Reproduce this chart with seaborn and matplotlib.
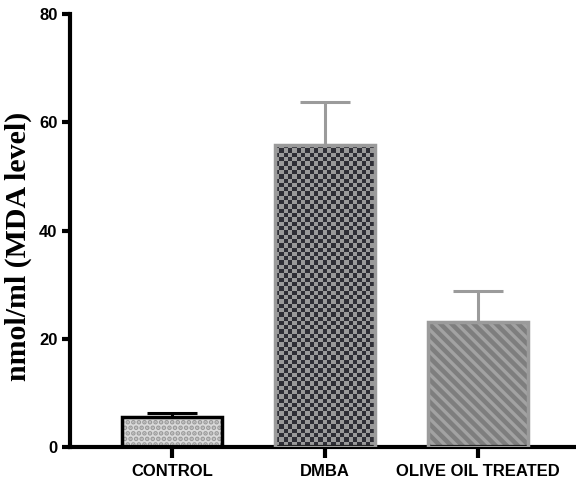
import matplotlib
matplotlib.use("Agg")
import matplotlib.pyplot as plt
import seaborn as sns
import pandas as pd
import numpy as np
from matplotlib.colors import ListedColormap

groups = ["CONTROL", "DMBA", "OLIVE OIL TREATED"]
means = [5.5, 55.8, 23.1]
sems = [0.8, 8.0, 5.7]
y_ticks = [0, 20, 40, 60, 80]
y_label = "nmol/ml (MDA level)"

face_colors = ["#dadada", "#9a9a9a", "#7e7e7e"]
edge_colors = ["#000000", "#9b9b9b", "#9b9b9b"]
hatch_colors = ["#9a9a9a", "#9a9a9a", "#a2a2a2"]
hatches = ["...", "", "\\\\\\"]

black = "#000000"
sns.set_style("ticks", {"axes.edgecolor": black, "text.color": black,
                        "xtick.color": black, "ytick.color": black,
                        "axes.labelcolor": black})
plt.rcParams["font.family"] = ["Liberation Sans", "DejaVu Sans"]
plt.rcParams["hatch.linewidth"] = 2.4

fig = plt.figure(figsize=(5.76, 4.83), dpi=100)
ax = fig.add_axes([0.1215, 0.0745, 0.878, 0.8965])

df = pd.DataFrame({"group": groups, "mean": means})
sns.barplot(data=df, x="group", y="mean", ax=ax, width=0.65, errorbar=None,
            color="#cccccc")
ax.set_ylim(0, 80)
ax.set_xlim(-0.667, 2.64)

bars = list(ax.patches)
for i, p in enumerate(bars):
    p.set_facecolor(face_colors[i])
    p.set_edgecolor(hatch_colors[i])
    p.set_hatch(hatches[i])
    p.set_linewidth(0)
    ax.add_patch(plt.Rectangle(p.get_xy(), p.get_width(), p.get_height(),
                               fill=False, edgecolor=edge_colors[i],
                               linewidth=2.5, zorder=3))

# checkerboard texture for the DMBA bar
p = bars[1]
bb = p.get_window_extent()
cell = 4.3
nx = int(np.ceil(bb.width / cell))
ny = int(np.ceil(bb.height / cell))
chk = (np.add.outer(np.arange(ny), np.arange(nx)) % 2).astype(float)
x0, y0 = p.get_xy()
cmap = ListedColormap(["#2f2f36", "#9a9a9a"])
im = ax.imshow(chk, cmap=cmap, interpolation="nearest", aspect="auto",
               origin="upper",
               extent=[x0, x0 + nx * cell / bb.width * p.get_width(),
                       y0 + p.get_height() - ny * cell / bb.height * p.get_height(),
                       y0 + p.get_height()],
               zorder=2)
im.set_clip_path(p)

for i in range(len(groups)):
    ax.errorbar(i, means[i], yerr=[[0], [sems[i]]], fmt="none",
                ecolor=edge_colors[i],
                elinewidth=2.2, capsize=18, capthick=2.2, zorder=1.5)

ax.set_ylim(0, 80)
ax.set_xlim(-0.667, 2.64)
ax.set_yticks(y_ticks)
ax.set_xlabel("")
ax.set_ylabel(y_label, fontsize=21.5, fontweight="bold",
              family=["Liberation Serif"])
ax.yaxis.set_label_coords(-0.075, 0.464)
for lab in ax.get_xticklabels() + ax.get_yticklabels():
    lab.set_fontweight("bold")
    lab.set_fontsize(12)
sns.despine(ax=ax)
ax.spines["left"].set_linewidth(3)
ax.spines["bottom"].set_linewidth(3)
ax.tick_params(axis="y", length=6, width=3, pad=3)
ax.tick_params(axis="x", length=8, width=3, pad=4)

fig.savefig("out.png", dpi=100)
